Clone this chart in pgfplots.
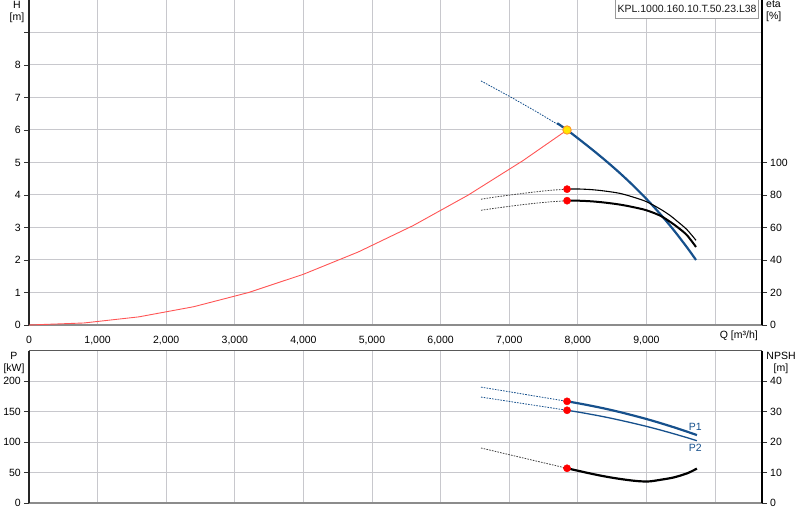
\documentclass[border=0pt]{standalone}
\usepackage{fontspec}
\setmainfont{Liberation Sans}
\usepackage{pgfplots}
\pgfplotsset{compat=1.18}
\definecolor{pblue}{RGB}{22,80,140}
\definecolor{gridc}{RGB}{200,200,205}
\definecolor{sysred}{RGB}{255,85,85}
\definecolor{dotyel}{RGB}{255,230,0}
\definecolor{dotorg}{RGB}{255,150,40}
\begin{document}
\fontsize{10.5bp}{12bp}\selectfont
\begin{tikzpicture}
\path[use as bounding box] (0,0) rectangle (800bp,520bp);
\pgfplotsset{
  base/.style={
    scale only axis, width=733bp,
    xmin=0, xmax=10685,
    /pgf/number format/assume math mode=true,
    scaled ticks=false,
    tick label style={font=\fontsize{10.5bp}{12bp}\selectfont, text=black},
    major tick length=5bp,
    tick align=outside,
    tick style={black!80, line width=0.8bp},
    yticklabel style={inner sep=0pt},
    clip=false,
  },
  leftax/.style={
    axis x line*=bottom, axis y line*=left,
    x axis line style={-, draw=black!45, line width=2.6bp},
    y axis line style={-, draw=black!85, line width=1.3bp},
    xtick={0,1000,2000,3000,4000,5000,6000,7000,8000,9000,10000},
    xtick style={draw=none},
    grid=major,
    major grid style={draw=gridc, line width=1bp},
    yticklabel style={anchor=east, xshift=-3bp},
  },
  rightax/.style={
    axis y line*=right, axis x line=none,
    y axis line style={-, draw=black, line width=1.3bp},
    yticklabel style={anchor=west, xshift=3bp},
  },
  dashb/.style={pblue, line width=0.8bp, dash pattern=on 1.6bp off 1.2bp},
  dashk/.style={black!75, line width=0.8bp, dash pattern=on 1.6bp off 1.2bp},
  reddot/.style={only marks, mark=*, mark size=3.6bp, mark options={fill=red, draw=red}},
}
% ---------------- Top: H axis
\begin{axis}[base, leftax, at={(29bp,195bp)}, anchor=south west, height=325bp,
  ymin=0, ymax=10,
  ytick={0,1,2,3,4,5,6,7,8,9},
  yticklabels={0,1,2,3,4,5,6,7,8,{}},
  xticklabels={0,{1,000},{2,000},{3,000},{4,000},{5,000},{6,000},{7,000},{8,000},{9,000},{}},
  xticklabel style={anchor=base, yshift=-13.2bp, inner sep=0pt},
]
\addplot[sysred, line width=0.9bp] coordinates {
(0,0) (800,0.062) (1600,0.250) (2400,0.562) (3200,0.999) (4000,1.561)
(4800,2.247) (5600,3.059) (6400,3.995) (7200,5.057) (7843,6.0)};
\addplot[dashb] coordinates {
(6589,7.51) (7000,7.04) (7400,6.56) (7843,6.00)};
\addplot[pblue, line width=2.2bp, smooth] coordinates {
(7700,6.21) (7843,6.00) (8000,5.747) (8200,5.414) (8400,5.067) (8600,4.699) (8800,4.305)
(9000,3.880) (9200,3.418) (9400,2.915) (9600,2.364) (9723,2.00)};
\addplot[only marks, mark=*, mark size=4.2bp, mark options={fill=dotyel, draw=dotorg, line width=0.9bp}]
coordinates {(7843,6.0)};
\node[anchor=north, align=center, inner sep=0pt, font=\fontsize{10.5bp}{11.7bp}\selectfont]
  at (rel axis cs:0,1) [xshift=-12bp, yshift=-1bp] {H\\{[m]}};
\node[anchor=base east, inner sep=0pt] at (rel axis cs:1,0) [xshift=-4bp, yshift=-13.2bp] {Q [m³/h]};
\node[anchor=north east, draw=black!40, line width=0.9bp, fill=white, inner xsep=2bp,
  minimum height=19.5bp, text=black!90]
  at (rel axis cs:1,1) [xshift=-3bp, yshift=1bp] {KPL.1000.160.10.T.50.23.L38};
\end{axis}
% ---------------- Top: eta axis
\begin{axis}[base, rightax, at={(29bp,195bp)}, anchor=south west, height=325bp,
  ymin=0, ymax=200,
  ytick={0,20,40,60,80,100},
]
\addplot[dashk] coordinates {
(6589,77.4) (6800,78.8) (7000,79.9) (7200,81.0) (7400,82.0) (7600,82.9) (7843,83.6)};
\addplot[black, line width=1.1bp, smooth] coordinates {
(7843,83.6) (8000,83.7) (8200,83.3) (8400,82.4) (8613,81.0) (8800,78.8) (9000,75.9)
(9200,71.4) (9345,67.4) (9450,63.8) (9588,58.8) (9723,52.1)};
\addplot[dashk] coordinates {
(6589,70.6) (6800,71.9) (7000,73.0) (7200,74.1) (7400,75.0) (7600,75.8) (7843,76.5)};
\addplot[black, line width=2bp, smooth] coordinates {
(7843,76.5) (8000,76.5) (8200,76.1) (8400,75.3) (8613,74.1) (8800,72.6) (9000,70.6)
(9200,67.3) (9345,63.5) (9450,60.3) (9588,55.4) (9723,48.0)};
\addplot[reddot] coordinates {(7843,83.6) (7843,76.5)};
\node[anchor=north west, align=left, inner sep=0pt, font=\fontsize{10.5bp}{11.7bp}\selectfont]
  at (rel axis cs:1,1) [xshift=4bp, yshift=-1bp] {eta\\{[\%]}};
\end{axis}
% ---------------- Bottom: P axis
\begin{axis}[base, leftax, at={(29bp,17bp)}, anchor=south west, height=152.3bp,
  ymin=0, ymax=250,
  ytick={0,50,100,150,200},
  xticklabels={},
]
\draw[black!65, line width=1.3bp] (rel axis cs:0,1) -- (rel axis cs:1,1);
\addplot[dashb] coordinates {(6589,190.2) (7000,182.6) (7400,175.1) (7843,166.9)};
\addplot[pblue, line width=2.2bp, smooth] coordinates {
(7843,166.9) (8000,163.8) (8200,159.5) (8400,154.8) (8600,149.6) (8800,143.9)
(9000,137.9) (9200,131.3) (9400,124.3) (9600,116.8) (9736,111.5)};
\addplot[dashb] coordinates {(6589,173.9) (7200,163.3) (7843,152.2)};
\addplot[pblue, line width=1.3bp, smooth] coordinates {
(7843,152.2) (8000,149.4) (8200,145.4) (8400,141.1) (8600,136.3) (8800,131.2)
(9000,125.8) (9200,119.9) (9400,113.6) (9600,107.0) (9736,102.2)};
\addplot[reddot] coordinates {(7843,166.9) (7843,152.2)};
\node[text=pblue, inner sep=0pt] at (axis cs:9711,125.5) {P1};
\node[text=pblue, inner sep=0pt] at (axis cs:9711,91.3) {P2};
\node[anchor=north, align=center, inner sep=0pt, font=\fontsize{10.5bp}{11.7bp}\selectfont]
  at (rel axis cs:0,1) [xshift=-15bp, yshift=-1.5bp] {P\\{[kW]}};
\end{axis}
% ---------------- Bottom: NPSH axis
\begin{axis}[base, rightax, at={(29bp,17bp)}, anchor=south west, height=152.3bp,
  ymin=0, ymax=50,
  ytick={0,10,20,30,40},
]
\addplot[dashk] coordinates {(6589,18.06) (7200,14.8) (7843,11.4)};
\addplot[black, line width=2.2bp, smooth] coordinates {
(7843,11.4) (8000,10.6) (8200,9.6) (8400,8.7) (8600,7.95) (8800,7.35) (8930,7.1)
(9050,7.1) (9200,7.6) (9400,8.4) (9600,9.8) (9736,11.3)};
\addplot[reddot] coordinates {(7843,11.4)};
\node[anchor=north, align=center, inner sep=0pt, font=\fontsize{10.5bp}{11.7bp}\selectfont]
  at (rel axis cs:1,1) [xshift=19bp, yshift=-1.5bp] {NPSH\\{[m]}};
\end{axis}
\end{tikzpicture}
\end{document}
